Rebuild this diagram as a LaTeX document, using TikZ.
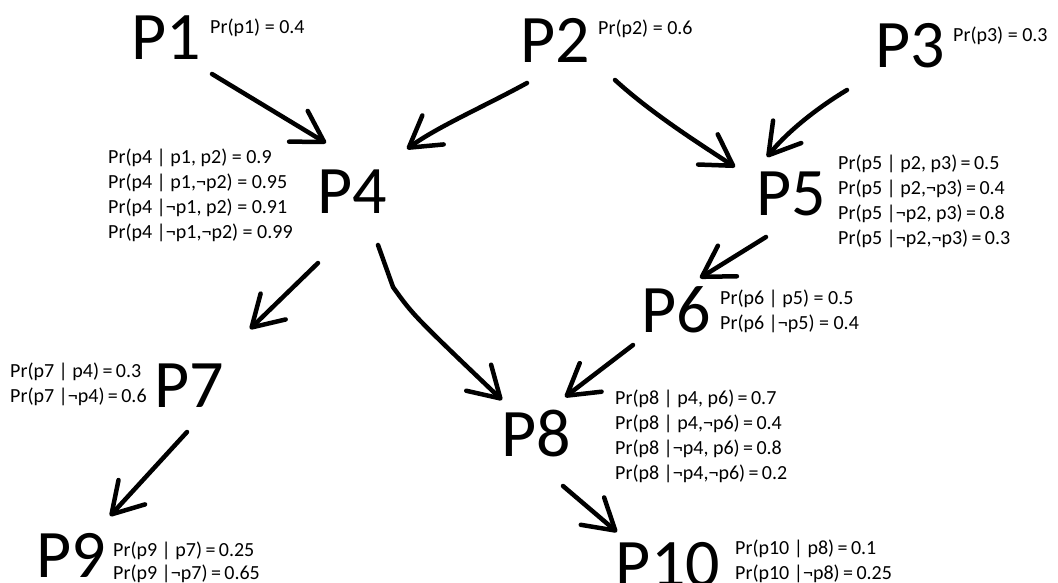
\documentclass[tikz,border=0pt]{standalone}
\usepackage{fontspec}
\setmainfont{Carlito}
\usetikzlibrary{arrows.meta,calc}
\newcommand{\myneg}{¬}
\newcommand{\teq}{\hspace{0.17em}=\hspace{0.17em}}
\begin{document}
\begin{tikzpicture}[x=1pt,y=-1pt,
  big/.style={font=\fontsize{68}{68}\selectfont, inner sep=0pt, anchor=center},
  cpt/.style={font=\fontsize{20}{25}\selectfont, inner sep=0pt, anchor=north west, align=left},
  hand/.style={line width=4.5pt, line cap=round, line join=round,
    -{Straight Barb[length=30pt,width=36pt,line width=4.5pt,round]}}]
\useasboundingbox (0,0) rectangle (1058,583);
% big labels
\node[big] (P1) at (166,38) {P1};
\node[big] (P2) at (555,40) {P2};
\node[big] (P3) at (910,46) {P3};
\node[big] (P4) at (352,192) {P4};
\node[big] (P5) at (791,194) {P5};
\node[big] (P6) at (676,310) {P6};
\node[big] (P7) at (189,386) {P7};
\node[big] (P8) at (536,434) {P8};
\node[big] (P9) at (71,555) {P9};
\node[big] (P10) at (668,565) {P10};
% probability tables
\node[cpt] (t1) at (210,19) {Pr(p1) = 0.4};
\node[cpt] (t2) at (598,20) {Pr(p2) = 0.6};
\node[cpt] (t3) at (953,27) {Pr(p3) = 0.3};
\node[cpt] (t4) at (108,149) {Pr(p4 | p1, p2) = 0.9\\Pr(p4 | p1,\myneg p2) = 0.95\\Pr(p4 |\myneg p1, p2) = 0.91\\Pr(p4 |\myneg p1,\myneg p2) = 0.99};
\node[cpt] (t5) at (838,155) {Pr(p5 | p2, p3)\teq 0.5\\Pr(p5 | p2,\myneg p3)\teq 0.4\\Pr(p5 |\myneg p2, p3)\teq 0.8\\Pr(p5 |\myneg p2,\myneg p3)\teq 0.3};
\node[cpt] (t6) at (720,290) {Pr(p6 | p5) = 0.5\\Pr(p6 |\myneg p5) = 0.4};
\node[cpt] (t7) at (10,363) {Pr(p7 | p4)\teq 0.3\\Pr(p7 |\myneg p4)\teq 0.6};
\node[cpt] (t8) at (615,390) {Pr(p8 | p4, p6)\teq 0.7\\Pr(p8 | p4,\myneg p6)\teq 0.4\\Pr(p8 |\myneg p4, p6)\teq 0.8\\Pr(p8 |\myneg p4,\myneg p6)\teq 0.2};
\node[cpt, font=\fontsize{20}{23}\selectfont] (t9) at (113,542) {Pr(p9 | p7)\teq 0.25\\Pr(p9 |\myneg p7)\teq 0.65};
\node[cpt] (t10) at (735,540) {Pr(p10 | p8)\teq 0.1\\Pr(p10 |\myneg p8)\teq 0.25};
% hand-drawn arrows
\draw[hand] ($(P1)+(46,36)$) -- ($(P4)+(-26,-49)$);
\draw[hand] ($(P2)+(-28,43)$) .. controls +(-40,22) and +(30,-22) .. ($(P4)+(55,-43)$);
\draw[hand] ($(P2)+(60,40)$) .. controls +(35,32) and +(-40,-26) .. ($(P5)+(-56,-27)$);
\draw[hand] ($(P3)+(-63,44)$) .. controls +(-30,18) and +(20,-25) .. ($(P5)+(-24,-37)$);
\draw[hand] ($(P4)+(-34,71)$) -- ($(P7)+(61,-57)$);
\draw[hand] ($(P4)+(26,53)$) -- ($(P4)+(41,95)$) .. controls +(20,28) .. ($(P8)+(-34,-34)$);
\draw[hand] ($(P5)+(-25,43)$) -- ($(P6)+(24,-32)$);
\draw[hand] ($(P6)+(-43,35)$) -- ($(P8)+(29,-37)$);
\draw[hand] ($(P7)+(-2,46)$) -- ($(P9)+(39,-39)$);
\draw[hand] ($(P8)+(27,52)$) -- ($(P10)+(-51,-33)$);
\end{tikzpicture}
\end{document}
